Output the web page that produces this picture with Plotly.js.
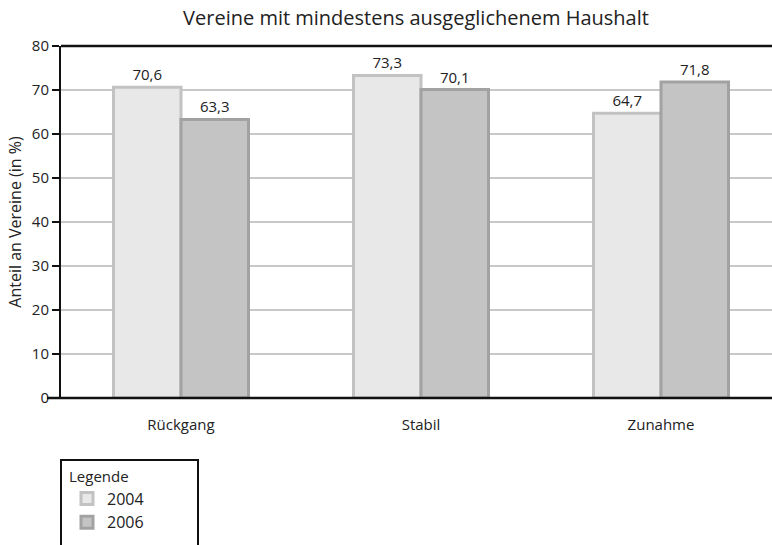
<!DOCTYPE html>
<html><head><meta charset="utf-8">
<script src="https://cdn.plot.ly/plotly-3.0.1.min.js"></script>
<style>body{margin:0;padding:0;background:#fff}#chart{width:772px;height:545px}</style>
</head><body><div id="chart"></div>
<script>
const categories = ["Rückgang", "Stabil", "Zunahme"];
const values2004 = [70.6, 73.3, 64.7];
const values2006 = [63.3, 70.1, 71.8];
const seriesNames = ["2004", "2006"];
const fmt = v => v.toFixed(1).replace(".", ",");
const font = "Open Sans, Noto Sans, sans-serif";

const traces = [
  {type:"bar", name:seriesNames[0], x:categories, y:values2004,
   text:values2004.map(fmt), textposition:"outside", cliponaxis:false,
   textfont:{family:font,size:15,color:"#222"},
   marker:{color:"#e8e8e8", line:{color:"#c2c2c2", width:3}}, hoverinfo:"none"},
  {type:"bar", name:seriesNames[1], x:categories, y:values2006,
   text:values2006.map(fmt), textposition:"outside", cliponaxis:false,
   textfont:{family:font,size:15,color:"#222"},
   marker:{color:"#c4c4c4", line:{color:"#a2a2a2", width:3}}, hoverinfo:"none"}
];

const layout = {
  width:772, height:545,
  margin:{l:61, r:0, t:46, b:147},
  paper_bgcolor:"#fff", plot_bgcolor:"#fff",
  font:{family:font, size:15, color:"#222"},
  separators:",.",
  title:{text:"Vereine mit mindestens ausgeglichenem Haushalt", font:{family:font,size:20,color:"#222"},
         x:(416-61)/711, xanchor:"center", y:1-18/545, yanchor:"middle", xref:"paper"},
  barmode:"group", bargap:0.4375, bargroupgap:0,
  showlegend:true,
  legend:{x:6/711, xanchor:"left", y:-64/352, yanchor:"top", bgcolor:"rgba(0,0,0,0)",
          borderwidth:0, font:{family:font,size:16,color:"#222"},
          title:{text:"Legende", side:"top", font:{family:font,size:15,color:"#222"}},
          itemwidth:30, tracegroupgap:4},
  xaxis:{type:"category", range:[-0.5, 2.4625], showgrid:false, zeroline:false,
         showline:false, ticks:"", tickfont:{family:font,size:15,color:"#222"}, ticklabelstandoff:16},
  yaxis:{range:[0,80], dtick:10, showgrid:true, gridcolor:"#c8c8c8", gridwidth:2,
         zeroline:false, showline:true, linecolor:"#111", linewidth:2, mirror:false,
         ticks:"outside", ticklen:7, tickwidth:2, tickcolor:"#111",
         tickfont:{family:font,size:15,color:"#222"},
         title:{text:"Anteil an Vereine (in %)", font:{family:font,size:16,color:"#222"}, standoff:6}},
  shapes:[
    {type:"line", xref:"paper", yref:"paper", x0:0, x1:1.02, y0:1, y1:1, line:{color:"#111",width:2.5}},
    {type:"line", xref:"paper", yref:"paper", x0:-14/711, x1:1.02, y0:0, y1:0, line:{color:"#111",width:2.5}},
    {type:"rect", xref:"paper", yref:"paper", x0:0, x1:137/711, y0:-62/352, y1:-160/352,
     line:{color:"#111",width:2}, fillcolor:"rgba(0,0,0,0)"}
  ]
};
Plotly.newPlot("chart", traces, layout, {staticPlot:true, displayModeBar:false});
</script></body></html>
